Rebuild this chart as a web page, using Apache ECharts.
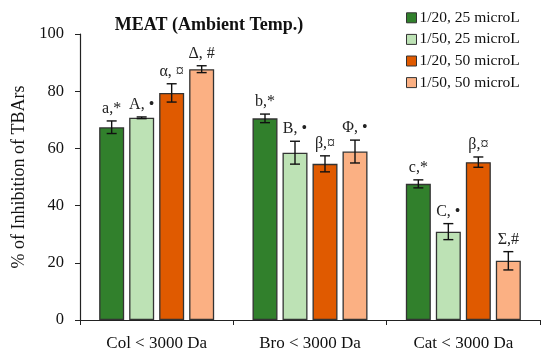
<!DOCTYPE html>
<html>
<head>
<meta charset="utf-8">
<script src="https://cdn.jsdelivr.net/npm/echarts@6/dist/echarts.min.js"></script>
<style>html,body{margin:0;padding:0;background:#fff}#c{width:550px;height:361px}</style>
</head>
<body>
<div id="c"></div>
<script>
const categories = ['Col < 3000 Da', 'Bro < 3000 Da', 'Cat < 3000 Da'];
const seriesNames = ['1/20, 25 microL', '1/50, 25 microL', '1/20, 50 microL', '1/50, 50 microL'];
const s1Values = [67.4, 70.5, 47.6];
const s2Values = [70.7, 58.5, 30.9];
const s3Values = [79.4, 54.6, 55.2];
const s4Values = [87.7, 58.9, 20.7];
const s1Err = [2.2, 1.5, 1.4];
const s2Err = [0.3, 4.0, 2.8];
const s3Err = [3.2, 2.8, 1.8];
const s4Err = [1.2, 4.0, 3.2];
const s1Labels = ['a,*', 'b,*', 'c,*'];
const s2Labels = ['A, \u2022', 'B, \u2022', 'C, \u2022'];
const s3Labels = ['\u03b1, \u00a4', '\u03b2,\u00a4', '\u03b2,\u00a4'];
const s4Labels = ['\u0394, #', '\u03a6, \u2022', '\u03a3,#'];
const yTicks = [0, 20, 40, 60, 80, 100];

const colors = ['#31802c', '#bde2b5', '#e05a00', '#fbb083'];
const values = [s1Values, s2Values, s3Values, s4Values];
const errs = [s1Err, s2Err, s3Err, s4Err];
const labels = [s1Labels, s2Labels, s3Labels, s4Labels];

const FONT = '"Liberation Serif", "DejaVu Serif", serif';
const BAR_W = 25, BAR_GAP = 5;

const chart = echarts.init(document.getElementById('c'), null, {renderer: 'canvas'});
const series = [];
values.forEach((v, i) => {
  series.push({
    name: seriesNames[i], type: 'bar', data: v, barWidth: BAR_W, barGap: (BAR_GAP / BAR_W * 100) + '%',
    itemStyle: {color: colors[i], borderColor: '#333', borderWidth: 1.3},
    emphasis: {disabled: true}, z: 2
  });
});
values.forEach((v, i) => {
  const data = v.map((val, j) => [j, val, errs[i][j], labels[i][j]]);
  series.push({
    type: 'custom', data: data, z: 5, silent: true,
    renderItem: function (params, api) {
      const j = api.value(0), val = api.value(1), e = api.value(2);
      const lab = data[params.dataIndex][3];
      const n = values.length;
      const total = n * BAR_W + (n - 1) * BAR_GAP;
      const c = api.coord([j, val]);
      const x = c[0] - total / 2 + BAR_W / 2 + i * (BAR_W + BAR_GAP);
      const top = api.coord([j, val + e])[1];
      const bot = api.coord([j, val - e])[1];
      const cap = 5;
      const st = {stroke: '#111', lineWidth: 1.4};
      return {
        type: 'group',
        children: [
          {type: 'line', shape: {x1: x, y1: top, x2: x, y2: bot}, style: st},
          {type: 'line', shape: {x1: x - cap, y1: top, x2: x + cap, y2: top}, style: st},
          {type: 'line', shape: {x1: x - cap, y1: bot, x2: x + cap, y2: bot}, style: st},
          {type: 'text', x: x, y: top - 4, style: {text: lab, font: '16px ' + FONT, fill: '#222', align: 'center', verticalAlign: 'bottom'}}
        ]
      };
    }
  });
});

chart.setOption({
  animation: false,
  color: colors,
  title: {text: 'MEAT (Ambient Temp.)', left: 204, top: 11, textAlign: 'center',
    textStyle: {fontFamily: FONT, fontSize: 18, fontWeight: 'bold', color: '#111'}},
  legend: {orient: 'vertical', left: 406, top: 7, itemWidth: 10, itemHeight: 10, itemGap: 0, padding: 0,
    icon: 'rect', data: seriesNames.map((n, i) => ({name: n, itemStyle: {color: colors[i], borderColor: '#333', borderWidth: 1}})),
    textStyle: {fontFamily: FONT, fontSize: 15.5, lineHeight: 21.6, color: '#111', padding: [0, 0, 0, -2]}},
  grid: {left: 80, right: 10, top: 34, bottom: 41, containLabel: false},
  xAxis: {type: 'category', data: categories,
    axisLine: {lineStyle: {color: '#222', width: 1.2}},
    axisTick: {show: true, alignWithLabel: false, length: 5, inside: false, lineStyle: {color: '#222'}},
    axisLabel: {fontFamily: FONT, fontSize: 17, color: '#111', margin: 15}},
  yAxis: {type: 'value', min: yTicks[0], max: yTicks[yTicks.length - 1], interval: 20,
    name: '% of Inhibition of TBArs', nameLocation: 'middle', nameGap: 45,
    nameTextStyle: {fontFamily: FONT, fontSize: 18, color: '#111'},
    axisLine: {show: true, lineStyle: {color: '#222', width: 1.2}},
    axisTick: {show: true, length: 5, lineStyle: {color: '#222'}},
    splitLine: {show: false},
    axisLabel: {fontFamily: FONT, fontSize: 16.5, color: '#111', margin: 16}},
  series: series
});
</script>
</body>
</html>
